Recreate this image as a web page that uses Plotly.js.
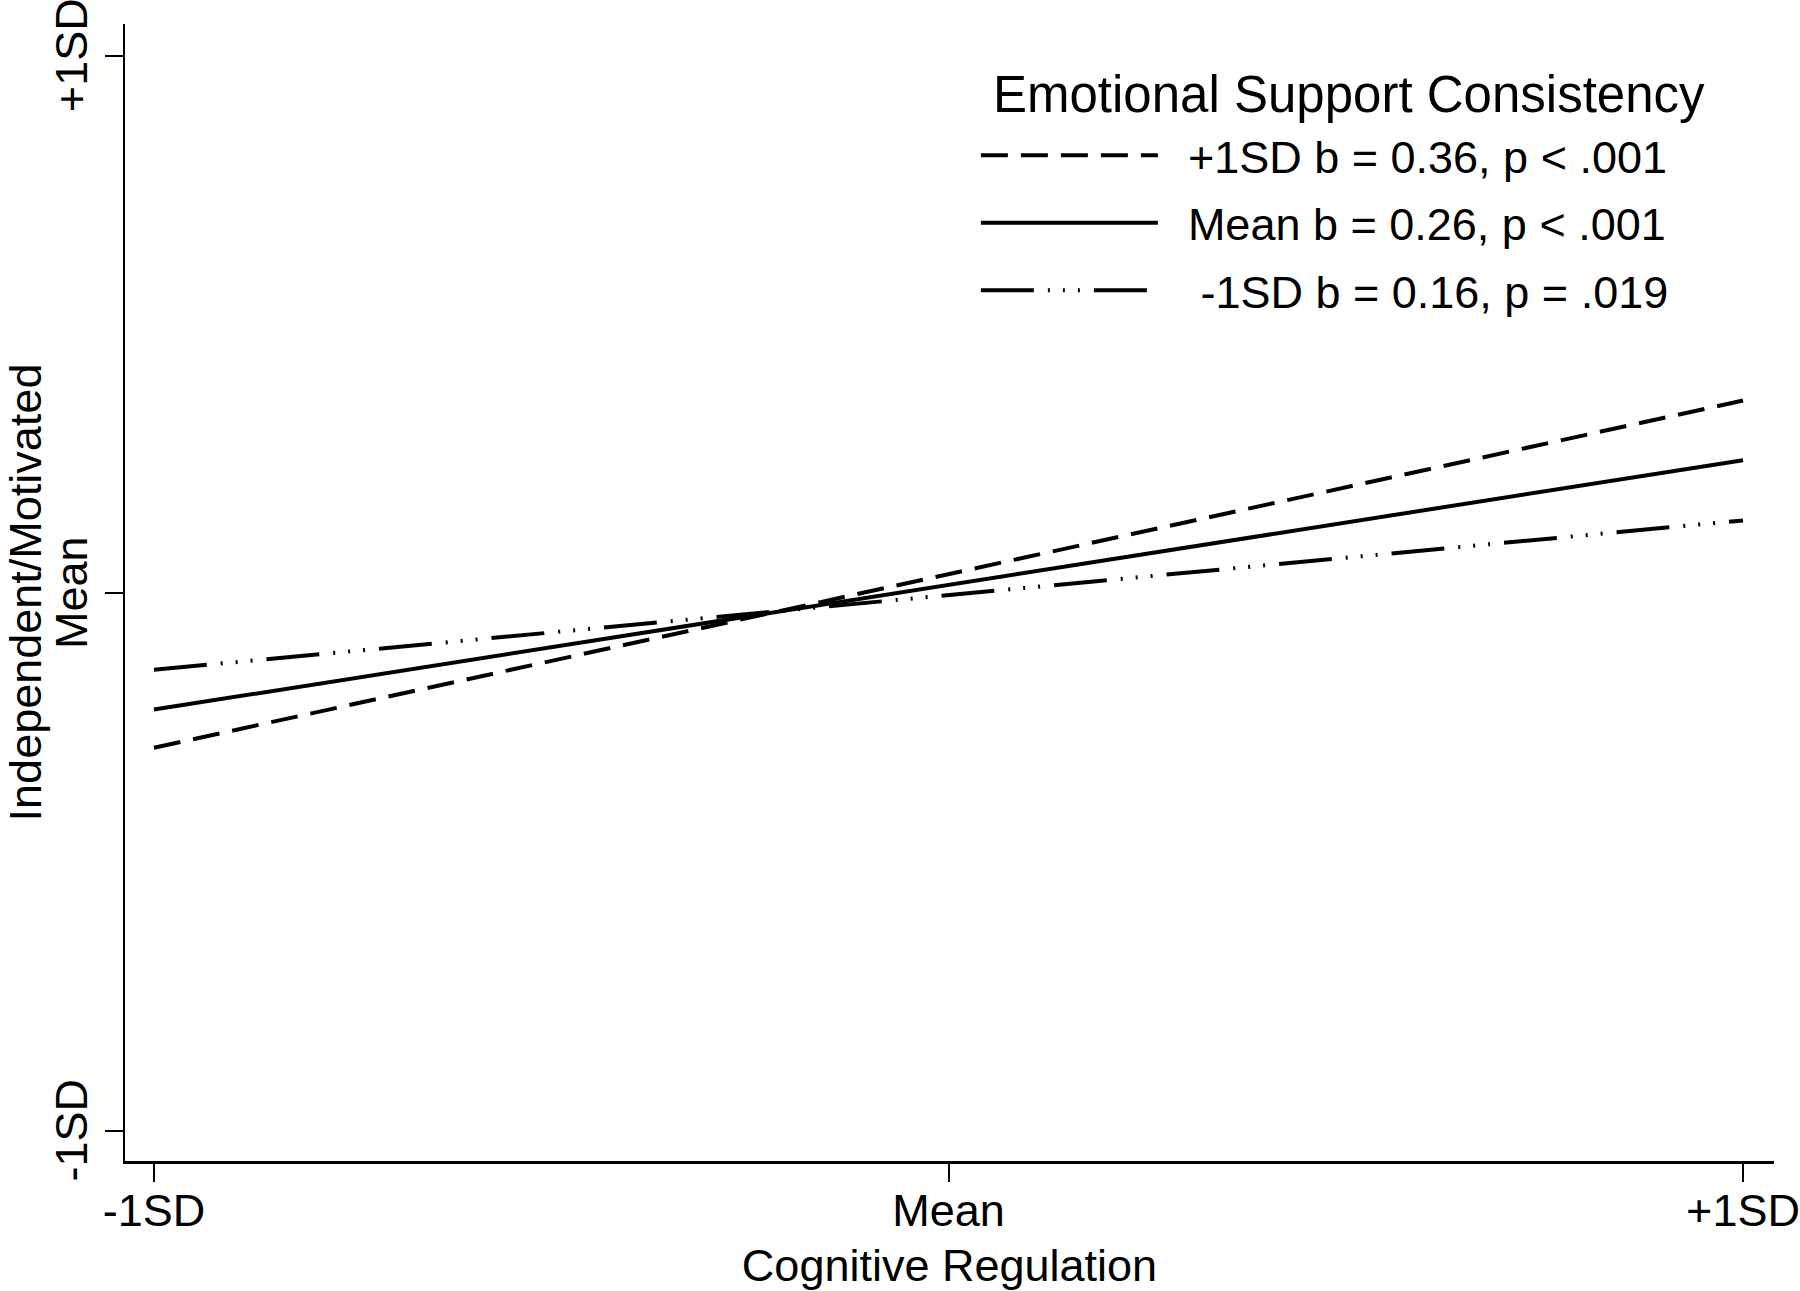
<!DOCTYPE html>
<html>
<head>
<meta charset="utf-8">
<script src="https://cdn.plot.ly/plotly-3.0.1.min.js"></script>
<style>html,body{margin:0;padding:0;background:#fff;}#chart{width:1800px;height:1291px;}</style>
</head>
<body>
<div id="chart"></div>
<script>
// Data
const xPositions = [-1, 1];
const tickVals = [-1, 0, 1];
const xTickText = ['-1SD', 'Mean', '+1SD'];
const yTickText = ['-1SD', 'Mean', '+1SD'];
const legendTitle = 'Emotional Support Consistency';
const seriesNames = [
  '\u00a0\u00a0+1SD b = 0.36, p < .001',
  '\u00a0\u00a0Mean b = 0.26, p < .001',
  '\u00a0\u00a0\u00a0-1SD b = 0.16, p = .019'
];
const highSupport = [-0.287, 0.359];
const meanSupport = [-0.216, 0.248];
const lowSupport = [-0.142, 0.136];

const FONT = '"Liberation Sans", Arial, Helvetica, sans-serif';
const dashes = ['27px,13px', 'solid', '53px,14px,2px,13px,2px,13px,2px,14px'];
const ys = [highSupport, meanSupport, lowSupport];

const traces = ys.map((y, i) => ({
  x: xPositions,
  y: y,
  type: 'scatter',
  mode: 'lines',
  name: seriesNames[i],
  legendgroup: 'g' + i,
  line: {color: '#000', width: 4, dash: dashes[i]},
  hoverinfo: 'skip'
}));

const layout = {
  width: 1800,
  height: 1291,
  paper_bgcolor: '#fff',
  plot_bgcolor: '#fff',
  margin: {l: 125, r: 26, t: 24, b: 130, pad: 0},
  font: {family: FONT, color: '#000', size: 45},
  xaxis: {
    range: [-1.0365, 1.039],
    tickvals: tickVals,
    ticktext: xTickText,
    ticks: 'outside',
    ticklen: 18,
    tickwidth: 2,
    tickcolor: '#000',
    ticklabelstandoff: -10,
    showline: true,
    linewidth: 2.5,
    linecolor: '#000',
    showgrid: false,
    zeroline: false,
    tickfont: {size: 45, family: FONT},
    title: {text: 'Cognitive Regulation', font: {size: 45, family: FONT}, standoff: 16}
  },
  yaxis: {
    range: [-1.0558, 1.0595],
    tickvals: tickVals,
    ticktext: yTickText,
    tickangle: -90,
    ticks: 'outside',
    ticklen: 18,
    tickwidth: 2,
    tickcolor: '#000',
    ticklabeloverflow: 'allow',
    ticklabelshift: 6,
    showline: true,
    linewidth: 2.5,
    linecolor: '#000',
    showgrid: false,
    zeroline: false,
    tickfont: {size: 45, family: FONT},
    title: {text: 'Independent/Motivated', font: {size: 45, family: FONT}, standoff: 8}
  },
  showlegend: true,
  legend: {
    x: 0.516,
    y: 0.916,
    xanchor: 'left',
    yanchor: 'top',
    bgcolor: 'rgba(0,0,0,0)',
    borderwidth: 0,
    itemwidth: 177,
    tracegroupgap: 6,
    traceorder: 'grouped',
    font: {size: 45, family: FONT, color: '#000'}
  },
  annotations: [{
    text: legendTitle,
    xref: 'paper', yref: 'paper',
    x: 0.7423, y: 0.9384,
    xanchor: 'center', yanchor: 'middle',
    showarrow: false,
    font: {size: 51, family: FONT, color: '#000'}
  }]
};

Plotly.newPlot('chart', traces, layout, {staticPlot: true, displayModeBar: false});
</script>
</body>
</html>
